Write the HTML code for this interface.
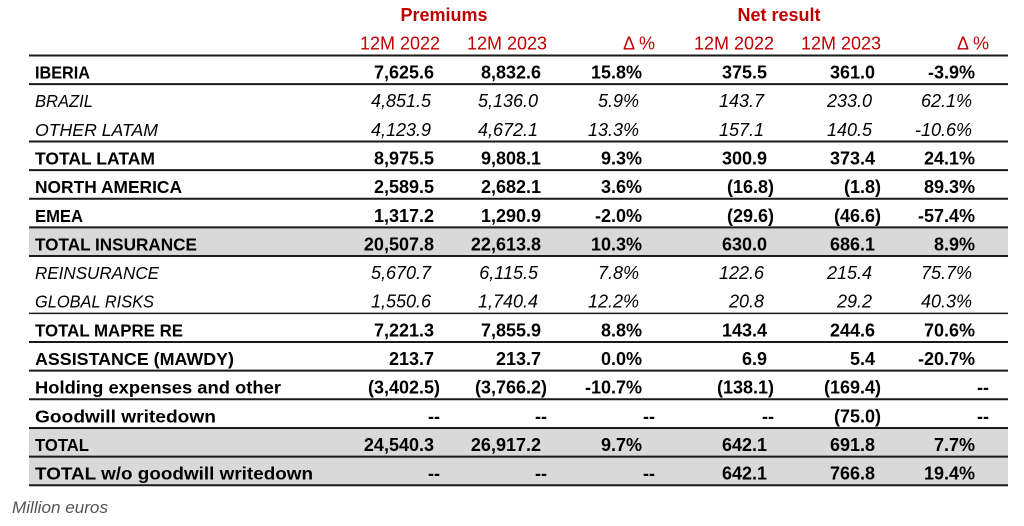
<!DOCTYPE html>
<html><head><meta charset="utf-8"><style>
html,body{margin:0;padding:0;background:#fff;}
svg{display:block;}
text{font-family:"Liberation Sans",Arial,sans-serif;fill:#000;}
.h{fill:#c00000;font-size:18px;}
.hb{fill:#c00000;font-size:18px;font-weight:bold;}
.b{font-weight:bold;font-size:18px;}
.i{font-style:italic;font-size:18px;}
.lb{font-weight:bold;font-size:17.5px;}
.li{font-style:italic;font-size:17.5px;}
</style></head><body>
<svg width="1024" height="526" viewBox="0 0 1024 526" xmlns="http://www.w3.org/2000/svg">
<rect x="29" y="227.4" width="979" height="28.65" fill="#d9d9d9"/>
<rect x="29" y="427.6" width="979" height="57.6" fill="#d9d9d9"/>
<text class="hb" x="444" y="21" text-anchor="middle">Premiums</text>
<text class="hb" x="779" y="21" text-anchor="middle">Net result</text>
<text class="h" x="440" y="49.5" text-anchor="end">12M 2022</text>
<text class="h" x="547" y="49.5" text-anchor="end">12M 2023</text>
<text class="h" x="655" y="49.5" text-anchor="end">Δ %</text>
<text class="h" x="774" y="49.5" text-anchor="end">12M 2022</text>
<text class="h" x="881" y="49.5" text-anchor="end">12M 2023</text>
<text class="h" x="989" y="49.5" text-anchor="end">Δ %</text>
<g stroke="#1a1a1a" stroke-width="2">
<line x1="29" x2="1008" y1="55.5" y2="55.5"/>
<line x1="29" x2="1008" y1="84.15" y2="84.15"/>
<line x1="29" x2="1008" y1="141.45" y2="141.45"/>
<line x1="29" x2="1008" y1="170.1" y2="170.1"/>
<line x1="29" x2="1008" y1="198.75" y2="198.75"/>
<line x1="29" x2="1008" y1="227.4" y2="227.4"/>
<line x1="29" x2="1008" y1="256.05" y2="256.05"/>
<line x1="29" x2="1008" y1="313.35" y2="313.35" stroke-width="1.5"/>
<line x1="29" x2="1008" y1="342" y2="342"/>
<line x1="29" x2="1008" y1="370.65" y2="370.65"/>
<line x1="29" x2="1008" y1="399.3" y2="399.3"/>
<line x1="29" x2="1008" y1="427.95" y2="427.95"/>
<line x1="29" x2="1008" y1="456.6" y2="456.6"/>
<line x1="29" x2="1008" y1="485.25" y2="485.25"/>
</g>

<g>
<text class="lb" x="35" y="78.5" textLength="55" lengthAdjust="spacingAndGlyphs">IBERIA</text>
<text class="b" x="434" y="78.5" text-anchor="end">7,625.6</text>
<text class="b" x="541" y="78.5" text-anchor="end">8,832.6</text>
<text class="b" x="642" y="78.5" text-anchor="end">15.8%</text>
<text class="b" x="767" y="78.5" text-anchor="end">375.5</text>
<text class="b" x="875" y="78.5" text-anchor="end">361.0</text>
<text class="b" x="975" y="78.5" text-anchor="end">-3.9%</text>
</g>
<g>
<text class="li" x="35" y="107.15" textLength="58" lengthAdjust="spacingAndGlyphs">BRAZIL</text>
<text class="i" x="431" y="107.15" text-anchor="end">4,851.5</text>
<text class="i" x="538" y="107.15" text-anchor="end">5,136.0</text>
<text class="i" x="639" y="107.15" text-anchor="end">5.9%</text>
<text class="i" x="764" y="107.15" text-anchor="end">143.7</text>
<text class="i" x="872" y="107.15" text-anchor="end">233.0</text>
<text class="i" x="972" y="107.15" text-anchor="end">62.1%</text>
</g>
<g>
<text class="li" x="35" y="135.8" textLength="123" lengthAdjust="spacingAndGlyphs">OTHER LATAM</text>
<text class="i" x="431" y="135.8" text-anchor="end">4,123.9</text>
<text class="i" x="538" y="135.8" text-anchor="end">4,672.1</text>
<text class="i" x="639" y="135.8" text-anchor="end">13.3%</text>
<text class="i" x="764" y="135.8" text-anchor="end">157.1</text>
<text class="i" x="872" y="135.8" text-anchor="end">140.5</text>
<text class="i" x="972" y="135.8" text-anchor="end">-10.6%</text>
</g>
<g>
<text class="lb" x="35" y="164.45" textLength="120" lengthAdjust="spacingAndGlyphs">TOTAL LATAM</text>
<text class="b" x="434" y="164.45" text-anchor="end">8,975.5</text>
<text class="b" x="541" y="164.45" text-anchor="end">9,808.1</text>
<text class="b" x="642" y="164.45" text-anchor="end">9.3%</text>
<text class="b" x="767" y="164.45" text-anchor="end">300.9</text>
<text class="b" x="875" y="164.45" text-anchor="end">373.4</text>
<text class="b" x="975" y="164.45" text-anchor="end">24.1%</text>
</g>
<g>
<text class="lb" x="35" y="193.1" textLength="147" lengthAdjust="spacingAndGlyphs">NORTH AMERICA</text>
<text class="b" x="434" y="193.1" text-anchor="end">2,589.5</text>
<text class="b" x="541" y="193.1" text-anchor="end">2,682.1</text>
<text class="b" x="642" y="193.1" text-anchor="end">3.6%</text>
<text class="b" x="774" y="193.1" text-anchor="end">(16.8)</text>
<text class="b" x="881" y="193.1" text-anchor="end">(1.8)</text>
<text class="b" x="975" y="193.1" text-anchor="end">89.3%</text>
</g>
<g>
<text class="lb" x="35" y="221.75" textLength="48" lengthAdjust="spacingAndGlyphs">EMEA</text>
<text class="b" x="434" y="221.75" text-anchor="end">1,317.2</text>
<text class="b" x="541" y="221.75" text-anchor="end">1,290.9</text>
<text class="b" x="642" y="221.75" text-anchor="end">-2.0%</text>
<text class="b" x="774" y="221.75" text-anchor="end">(29.6)</text>
<text class="b" x="881" y="221.75" text-anchor="end">(46.6)</text>
<text class="b" x="975" y="221.75" text-anchor="end">-57.4%</text>
</g>
<g>
<text class="lb" x="35" y="250.4" textLength="162" lengthAdjust="spacingAndGlyphs">TOTAL INSURANCE</text>
<text class="b" x="434" y="250.4" text-anchor="end">20,507.8</text>
<text class="b" x="541" y="250.4" text-anchor="end">22,613.8</text>
<text class="b" x="642" y="250.4" text-anchor="end">10.3%</text>
<text class="b" x="767" y="250.4" text-anchor="end">630.0</text>
<text class="b" x="875" y="250.4" text-anchor="end">686.1</text>
<text class="b" x="975" y="250.4" text-anchor="end">8.9%</text>
</g>
<g>
<text class="li" x="35" y="279.05" textLength="124" lengthAdjust="spacingAndGlyphs">REINSURANCE</text>
<text class="i" x="431" y="279.05" text-anchor="end">5,670.7</text>
<text class="i" x="538" y="279.05" text-anchor="end">6,115.5</text>
<text class="i" x="639" y="279.05" text-anchor="end">7.8%</text>
<text class="i" x="764" y="279.05" text-anchor="end">122.6</text>
<text class="i" x="872" y="279.05" text-anchor="end">215.4</text>
<text class="i" x="972" y="279.05" text-anchor="end">75.7%</text>
</g>
<g>
<text class="li" x="35" y="307.7" textLength="119" lengthAdjust="spacingAndGlyphs">GLOBAL RISKS</text>
<text class="i" x="431" y="307.7" text-anchor="end">1,550.6</text>
<text class="i" x="538" y="307.7" text-anchor="end">1,740.4</text>
<text class="i" x="639" y="307.7" text-anchor="end">12.2%</text>
<text class="i" x="764" y="307.7" text-anchor="end">20.8</text>
<text class="i" x="872" y="307.7" text-anchor="end">29.2</text>
<text class="i" x="972" y="307.7" text-anchor="end">40.3%</text>
</g>
<g>
<text class="lb" x="35" y="336.35" textLength="148" lengthAdjust="spacingAndGlyphs">TOTAL MAPRE RE</text>
<text class="b" x="434" y="336.35" text-anchor="end">7,221.3</text>
<text class="b" x="541" y="336.35" text-anchor="end">7,855.9</text>
<text class="b" x="642" y="336.35" text-anchor="end">8.8%</text>
<text class="b" x="767" y="336.35" text-anchor="end">143.4</text>
<text class="b" x="875" y="336.35" text-anchor="end">244.6</text>
<text class="b" x="975" y="336.35" text-anchor="end">70.6%</text>
</g>
<g>
<text class="lb" x="35" y="365" textLength="199" lengthAdjust="spacingAndGlyphs">ASSISTANCE (MAWDY)</text>
<text class="b" x="434" y="365" text-anchor="end">213.7</text>
<text class="b" x="541" y="365" text-anchor="end">213.7</text>
<text class="b" x="642" y="365" text-anchor="end">0.0%</text>
<text class="b" x="767" y="365" text-anchor="end">6.9</text>
<text class="b" x="875" y="365" text-anchor="end">5.4</text>
<text class="b" x="975" y="365" text-anchor="end">-20.7%</text>
</g>
<g>
<text class="lb" x="35" y="393.65" textLength="246" lengthAdjust="spacingAndGlyphs">Holding expenses and other</text>
<text class="b" x="440" y="393.65" text-anchor="end">(3,402.5)</text>
<text class="b" x="547" y="393.65" text-anchor="end">(3,766.2)</text>
<text class="b" x="642" y="393.65" text-anchor="end">-10.7%</text>
<text class="b" x="774" y="393.65" text-anchor="end">(138.1)</text>
<text class="b" x="881" y="393.65" text-anchor="end">(169.4)</text>
<text class="b" x="989" y="393.65" text-anchor="end">--</text>
</g>
<g>
<text class="lb" x="35" y="422.3" textLength="181" lengthAdjust="spacingAndGlyphs">Goodwill writedown</text>
<text class="b" x="440" y="422.3" text-anchor="end">--</text>
<text class="b" x="547" y="422.3" text-anchor="end">--</text>
<text class="b" x="655" y="422.3" text-anchor="end">--</text>
<text class="b" x="774" y="422.3" text-anchor="end">--</text>
<text class="b" x="881" y="422.3" text-anchor="end">(75.0)</text>
<text class="b" x="989" y="422.3" text-anchor="end">--</text>
</g>
<g>
<text class="lb" x="35" y="450.95" textLength="54" lengthAdjust="spacingAndGlyphs">TOTAL</text>
<text class="b" x="434" y="450.95" text-anchor="end">24,540.3</text>
<text class="b" x="541" y="450.95" text-anchor="end">26,917.2</text>
<text class="b" x="642" y="450.95" text-anchor="end">9.7%</text>
<text class="b" x="767" y="450.95" text-anchor="end">642.1</text>
<text class="b" x="875" y="450.95" text-anchor="end">691.8</text>
<text class="b" x="975" y="450.95" text-anchor="end">7.7%</text>
</g>
<g>
<text class="lb" x="35" y="479.6" textLength="278" lengthAdjust="spacingAndGlyphs">TOTAL w/o goodwill writedown</text>
<text class="b" x="440" y="479.6" text-anchor="end">--</text>
<text class="b" x="547" y="479.6" text-anchor="end">--</text>
<text class="b" x="655" y="479.6" text-anchor="end">--</text>
<text class="b" x="767" y="479.6" text-anchor="end">642.1</text>
<text class="b" x="875" y="479.6" text-anchor="end">766.8</text>
<text class="b" x="975" y="479.6" text-anchor="end">19.4%</text>
</g>
<text x="12" y="513" style="font-style:italic;font-size:17px;fill:#555;" textLength="96" lengthAdjust="spacingAndGlyphs">Million euros</text>
</svg>
</body></html>
